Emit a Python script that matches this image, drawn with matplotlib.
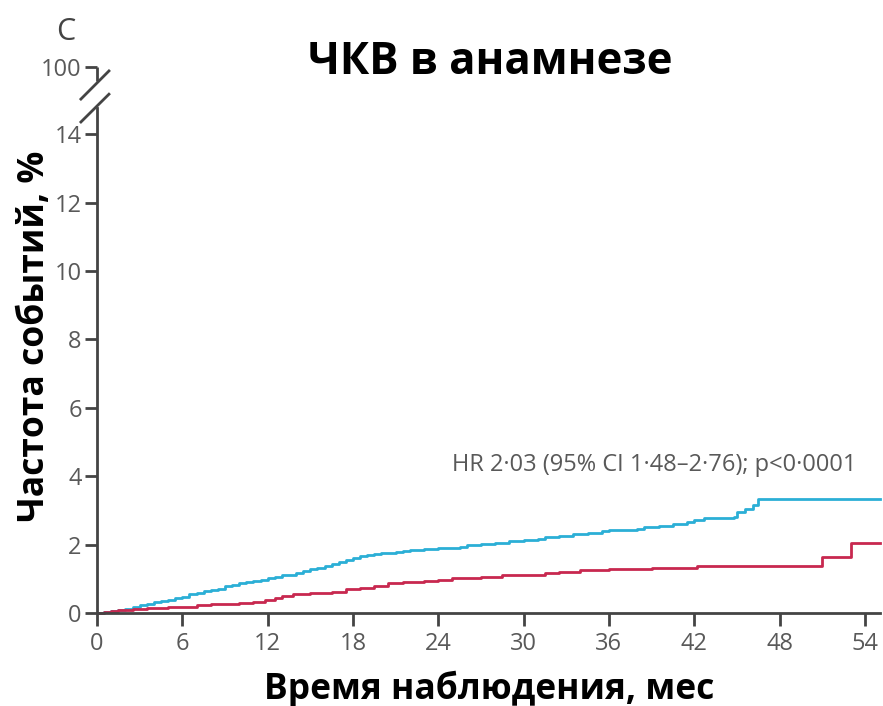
"""
Kaplan-Meier style cumulative event curves, panel C (PCI history).
"""

import matplotlib
matplotlib.use("Agg")
import matplotlib.pyplot as plt

matplotlib.rcParams['font.family'] = ['Open Sans', 'DejaVu Sans']

# Cumulative event rate, % (step function)
BLUE_T = [0, 0.5, 1, 1.5, 2, 2.5, 3, 3.5, 4, 4.5, 5, 5.5, 6, 6.5, 7, 7.5, 8, 8.5,
          9, 9.5, 10, 10.5, 11, 11.5, 12, 12.5, 13, 13.5, 14, 14.5, 15, 15.5, 16,
          16.5, 17, 17.5, 18, 18.5, 19, 19.5, 20, 21, 21.5, 22, 23, 24, 25.5, 26,
          27, 28, 29, 30, 31, 31.5, 32.5, 33.5, 34.5, 35.5, 36, 38, 38.5, 39.5,
          40.5, 41.5, 42, 42.7, 44.8, 45, 45.6, 46.1, 46.5, 55.1]
BLUE_Y = [0, 0.03, 0.07, 0.1, 0.13, 0.18, 0.23, 0.27, 0.31, 0.35, 0.39, 0.43, 0.48,
          0.55, 0.6, 0.63, 0.67, 0.7, 0.8, 0.83, 0.88, 0.9, 0.95, 0.98, 1.02, 1.06,
          1.1, 1.12, 1.16, 1.22, 1.28, 1.32, 1.38, 1.44, 1.5, 1.55, 1.6, 1.66, 1.7,
          1.74, 1.75, 1.78, 1.82, 1.85, 1.88, 1.9, 1.93, 2.0, 2.03, 2.06, 2.1, 2.13,
          2.15, 2.22, 2.25, 2.3, 2.35, 2.4, 2.43, 2.45, 2.52, 2.55, 2.6, 2.65, 2.72,
          2.78, 2.82, 2.95, 3.05, 3.15, 3.33, 3.33]

RED_T = [0, 0.5, 1, 1.5, 2.5, 3.5, 5, 7, 8, 10, 11, 11.8, 12.5, 13, 13.8, 15, 16.5,
         17.5, 18.5, 19.5, 20.5, 21.5, 23, 24, 25, 27, 28.5, 30.5, 31.5, 32.5, 34,
         35, 36, 39, 42.2, 51, 53, 55.1]
RED_Y = [0, 0.03, 0.06, 0.1, 0.13, 0.16, 0.18, 0.22, 0.26, 0.3, 0.33, 0.38, 0.44,
         0.5, 0.57, 0.6, 0.62, 0.7, 0.74, 0.8, 0.88, 0.9, 0.93, 0.96, 1.02, 1.05,
         1.1, 1.12, 1.18, 1.2, 1.25, 1.27, 1.28, 1.32, 1.37, 1.64, 2.05, 2.05]

X_TICKS = [0, 6, 12, 18, 24, 30, 36, 42, 48, 54]
Y_TICKS = [0, 2, 4, 6, 8, 10, 12, 14, 15.96]
Y_TICK_LABELS = ["0", "2", "4", "6", "8", "10", "12", "14", "100"]

BLUE = "#2bafd6"
RED = "#c8284f"
AXIS = "#444444"
TICK_TXT = "#595959"

fig = plt.figure(figsize=(8.83, 7.06), dpi=100)
fig.patch.set_facecolor('white')
ax = fig.add_axes([0.10985, 0.1317, 0.8873, 0.7847])

ax.step(BLUE_T, BLUE_Y, where="post", color=BLUE, linewidth=2, clip_on=False)
ax.step(RED_T, RED_Y, where="post", color=RED, linewidth=2, clip_on=False)

ax.set_xlim(0, 55.1)
ax.set_ylim(0, 16.2)

for s in ['top', 'right']:
    ax.spines[s].set_visible(False)
for s in ['left', 'bottom']:
    ax.spines[s].set_color(AXIS)
    ax.spines[s].set_linewidth(2)
ax.spines['left'].set_bounds(0, 14.77)

ax.set_xticks(X_TICKS)
ax.set_xticklabels([str(t) for t in X_TICKS])
ax.set_yticks(Y_TICKS)
ax.set_yticklabels(Y_TICK_LABELS)
ax.tick_params(axis='both', direction='out', length=9, width=2, color=AXIS,
               labelcolor=TICK_TXT, labelsize=17)
ax.tick_params(axis='x', pad=5)
ax.tick_params(axis='y', pad=2)

# axis break marks
brk = dict(color=AXIS, linewidth=2, clip_on=False, solid_capstyle='butt')
ax.plot([-1.2, 0.91], [15.0, 15.88], **brk)
ax.plot([-1.2, 0.91], [14.33, 15.2], **brk)
ax.plot([0, 0], [15.96, 15.55], **brk)

ax.text(39.2, 4.33, "HR 2·03 (95% CI 1·48–2·76); p<0·0001", ha="center",
        va="center", fontsize=17, color=TICK_TXT)

ax.set_xlabel("Время наблюдения, мес", fontsize=25.5, fontweight="bold",
              color="black", labelpad=10)
ax.set_ylabel("Частота событий, %", fontsize=25.5, fontweight="bold",
              color="black")
ax.yaxis.label.set_va('center')
ax.yaxis.set_label_coords(-0.079, 0.5)

fig.text(0.555, 0.912, "ЧКВ в анамнезе", ha="center", va="center",
         fontsize=31.5, fontweight="bold", color="black")
fig.text(0.074, 0.955, "C", ha="center", va="center", fontsize=22,
         color=AXIS)

fig.savefig("out.png", dpi=100)
